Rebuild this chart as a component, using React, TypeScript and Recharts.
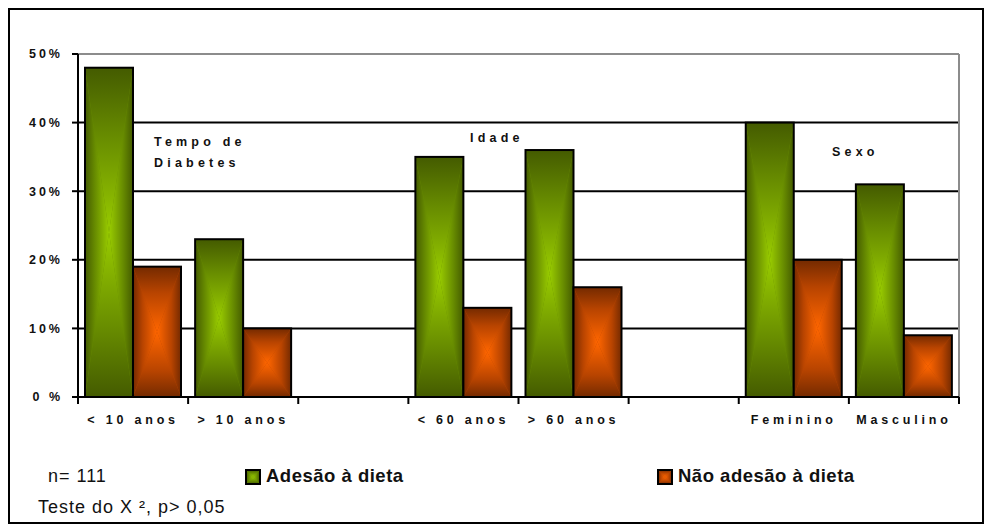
import { BarChart, Bar, XAxis, YAxis, CartesianGrid, ReferenceLine } from "recharts";

// grouped categories, blank slots separate the three groups
const categories = ["< 10 anos", "> 10 anos", "", "< 60 anos", "> 60 anos", "", "Feminino", "Masculino"];
const adesao = [48, 23, null, 35, 36, null, 40, 31];
const naoAdesao = [19, 10, null, 13, 16, null, 20, 9];
const yTicks = [0, 10, 20, 30, 40, 50];

const seriesNames = ["Adesão à dieta", "Não adesão à dieta"];
const groupTitles = ["Tempo de", "Diabetes", "Idade", "Sexo"];
const sampleNote = "n= 111";
const testNote = "Teste do X ², p> 0,05";

const data = categories.map((_, i) => ({ slot: i, adesao: adesao[i], naoAdesao: naoAdesao[i] }));

const W = 976;
const H = 516;
const FONT = "Arial, 'Liberation Sans', sans-serif";

const palette = {
  green: { dark: "#445b00", mid: "#668a00", bright: "#99cc00" },
  orange: { dark: "#742a00", mid: "#b84400", bright: "#ff6600" },
};

// four linear gradients per colour, one for each triangle of a "from centre" fill
function GradientDefs() {
  const dirs: Record<string, [number, number, number, number]> = {
    t: [0, 0, 0, 1],
    b: [0, 1, 0, 0],
    l: [0, 0, 1, 0],
    r: [1, 0, 0, 0],
  };
  return (
    <svg width={0} height={0} style={{ position: "absolute" }}>
      <defs>
        {Object.entries(palette).map(([name, c]) =>
          Object.entries(dirs).map(([d, [x1, y1, x2, y2]]) => (
            <linearGradient key={name + d} id={`${name}-${d}`} x1={x1} y1={y1} x2={x2} y2={y2}>
              <stop offset="0" stopColor={c.dark} />
              <stop offset="0.4" stopColor={c.mid} />
              <stop offset="1" stopColor={c.bright} />
            </linearGradient>
          ))
        )}
      </defs>
    </svg>
  );
}

function CentreFill({ x, y, width, height, color }: any) {
  if (!width || !height || height <= 0) return null;
  const cx = x + width / 2;
  const cy = y + height / 2;
  const c = (palette as any)[color];
  return (
    <g>
      <rect x={x} y={y} width={width} height={height} fill={c.mid} />
      <path d={`M${x},${y}L${x + width},${y}L${cx},${cy}Z`} fill={`url(#${color}-t)`} />
      <path d={`M${x},${y + height}L${x + width},${y + height}L${cx},${cy}Z`} fill={`url(#${color}-b)`} />
      <path d={`M${x},${y}L${x},${y + height}L${cx},${cy}Z`} fill={`url(#${color}-l)`} />
      <path d={`M${x + width},${y}L${x + width},${y + height}L${cx},${cy}Z`} fill={`url(#${color}-r)`} />
      <rect x={x} y={y} width={width} height={height} fill="none" stroke="#000" strokeWidth={2} />
    </g>
  );
}

const GreenBar = (p: any) => <CentreFill {...p} color="green" />;
const OrangeBar = (p: any) => <CentreFill {...p} color="orange" />;

// category label plus tick marks on the band boundaries
function CategoryTick({ x, y, payload }: any) {
  const half = payload.offset || 55;
  const axisY = y - 6;
  const last = payload.value === categories.length - 1;
  return (
    <g>
      <line x1={x - half} x2={x - half} y1={axisY} y2={axisY + 7} stroke="#000" strokeWidth={2} />
      {last && <line x1={x + half} x2={x + half} y1={axisY} y2={axisY + 7} stroke="#000" strokeWidth={2} />}
      <text
        x={x}
        y={axisY + 27}
        textAnchor="middle"
        fontFamily={FONT}
        fontWeight="bold"
        fontSize={12.5}
        fill="#111"
        style={{ letterSpacing: 3.8 }}
      >
        {categories[payload.value]}
      </text>
    </g>
  );
}

const labelStyle = { letterSpacing: 4.2 };

export default function App() {
  return (
    <div style={{ position: "relative", width: W, height: H, background: "#fff" }}>
      <GradientDefs />
      <BarChart
        width={W}
        height={H}
        data={data}
        margin={{ top: 46, right: 25, left: 10, bottom: 97 }}
        barCategoryGap={7}
        barGap={0}
      >
        <CartesianGrid vertical={false} stroke="#000" strokeWidth={2} />
        <ReferenceLine y={50} stroke="#8c8c8c" strokeWidth={2} />
        <ReferenceLine x={categories.length - 1} position="end" stroke="#8c8c8c" strokeWidth={2} />
        <XAxis
          dataKey="slot"
          type="category"
          height={30}
          interval={0}
          tickLine={false}
          tickSize={6}
          tickMargin={0}
          axisLine={{ stroke: "#000", strokeWidth: 2 }}
          tick={<CategoryTick />}
        />
        <YAxis
          width={60}
          domain={[0, 50]}
          ticks={yTicks}
          interval={0}
          tickSize={6}
          tickMargin={9}
          tickLine={{ stroke: "#000", strokeWidth: 2 }}
          axisLine={{ stroke: "#000", strokeWidth: 2 }}
          tickFormatter={(v: number) => (v === 0 ? "0 %" : `${v}%`)}
          tick={{ fill: "#111", fontFamily: FONT, fontWeight: "bold", fontSize: 12.5, style: { letterSpacing: 3 } }}
        />
        <Bar dataKey="adesao" name={seriesNames[0]} shape={<GreenBar />} isAnimationActive={false} />
        <Bar dataKey="naoAdesao" name={seriesNames[1]} shape={<OrangeBar />} isAnimationActive={false} />
      </BarChart>

      <svg
        width={W}
        height={H}
        style={{ position: "absolute", left: 0, top: 0, pointerEvents: "none" }}
        fontFamily={FONT}
      >
        <g fontWeight="bold" fontSize={12.5} fill="#111" style={labelStyle}>
          <text x={146} y={138}>{groupTitles[0]}</text>
          <text x={146} y={159}>{groupTitles[1]}</text>
          <text x={462} y={134}>{groupTitles[2]}</text>
          <text x={824} y={148}>{groupTitles[3]}</text>
        </g>

        <text x={40} y={474} fontSize={18} fill="#111" style={{ letterSpacing: 1 }}>
          {sampleNote}
        </text>
        <text x={30} y={505} fontSize={18} fill="#111" style={{ letterSpacing: 1 }}>
          {testNote}
        </text>

        <CentreFill x={238} y={462} width={14} height={14} color="green" />
        <text x={258} y={474} fontSize={18.5} fontWeight="bold" fill="#111" style={{ letterSpacing: 0.5 }}>
          {seriesNames[0]}
        </text>
        <CentreFill x={650} y={462} width={14} height={14} color="orange" />
        <text x={670} y={474} fontSize={18.5} fontWeight="bold" fill="#111" style={{ letterSpacing: 0.5 }}>
          {seriesNames[1]}
        </text>

        <rect x={1} y={1} width={W - 2} height={H - 2} fill="none" stroke="#000" strokeWidth={2} />
      </svg>
    </div>
  );
}
